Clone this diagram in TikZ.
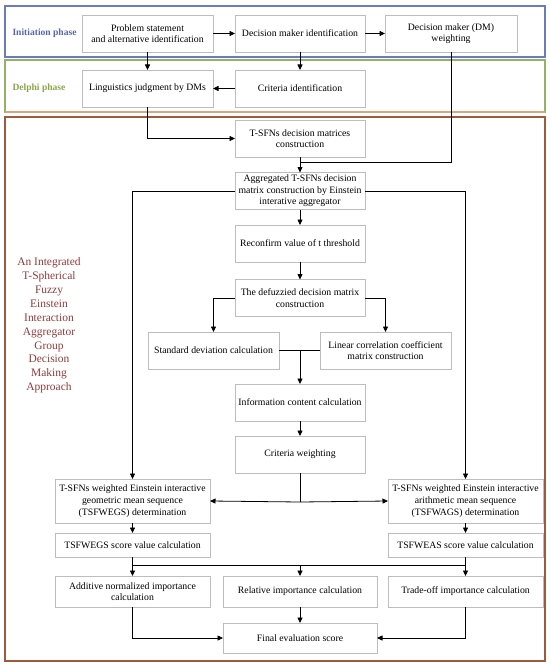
\documentclass[tikz,border=0pt]{standalone}
\usepackage{fontspec}
\setmainfont{Liberation Serif}
\usetikzlibrary{arrows.meta,calc,positioning}
\definecolor{initblue}{HTML}{6A7BC0}
\definecolor{delphigreen}{HTML}{93B264}
\definecolor{salmon}{HTML}{DCA47F}
\definecolor{rust}{HTML}{9C5C3C}
\definecolor{boxgray}{HTML}{BDBDBD}
\definecolor{titlered}{HTML}{8E3B3B}
\definecolor{labblue}{HTML}{5866AE}
\definecolor{labgreen}{HTML}{8AA64A}

\begin{document}
\begin{tikzpicture}[x=1bp,y=-1bp,>={Triangle[length=5.5bp,width=5bp]},
  font=\fontsize{9.8}{11.7}\selectfont,
  b/.style={draw=boxgray,fill=white,line width=.6pt,inner sep=1pt,outer sep=0pt,
            align=center,minimum height=37bp,minimum width=130bp},
  wide/.style={b,minimum width=155bp},
  link/.style={->,line width=.8pt},
  phase/.style={font=\fontsize{9.6}{11}\selectfont\bfseries,anchor=west}]
\useasboundingbox (0,0) rectangle (550,665);
% ---------------- phase frames
\draw[initblue,line width=1.3pt] (5,6) rectangle (545,57);
\draw[delphigreen,line width=1.3pt] (5,60) rectangle (545,112);
\draw[salmon,line width=1.3pt] (5,112) -- (545,112);
\draw[rust,line width=1.5pt] (5,117) rectangle (545,661);
\node[phase,color=labblue] (initlab) at (9,33) {Initiation phase};
\node[phase,color=labgreen] (delphilab) at (9,88) {Delphi phase};
\node[color=titlered,font=\fontsize{11.5}{13.9}\selectfont,align=center] (title) at (49,325.5)
   {An Integrated\\T-Spherical\\Fuzzy\\Einstein\\Interaction\\Aggregator\\Group\\Decision\\Making\\Approach};

% ---------------- initiation and Delphi rows
\node[b,minimum width=131bp] (prob) at (147.5,33.5) {Problem statement\\and alternative identification};
\node[b] (dmid) at (300,33.5) {Decision maker identification};
\node[b,minimum width=132bp] (dmw) at (451,33.5) {Decision maker (DM)\\weighting};
\node[b,minimum width=131bp] (ling) at (147.5,88.5) {Linguistics judgment by DMs};
\node[b] (crit) at (300,88.5) {Criteria identification};

% ---------------- main column
\node[b] (tsfn) at (300,138.5) {T-SFNs decision matrices\\construction};
\node[b] (agg) at (300,191) {Aggregated T-SFNs decision\\matrix construction by Einstein\\interative aggregator};
\node[b] (recon) at (300,243.5) {Reconfirm value of t threshold};
\node[b] (defuz) at (300,298) {The defuzzied decision matrix\\construction};
\node[b,minimum width=131bp] (std) at (213.5,350.5) {Standard deviation calculation};
\node[b,minimum width=131bp] (lin) at (385.5,350.5) {Linear correlation coefficient\\matrix construction};
\node[b] (info) at (300,402.5) {Information content calculation};
\node[b] (crw) at (300,454.5) {Criteria weighting};

% ---------------- geometric / arithmetic branches
\node[wide,minimum height=44bp] (geo) at (132.5,501) {T-SFNs weighted Einstein interactive\\geometric mean sequence\\(TSFWEGS) determination};
\node[wide,minimum height=44bp] (ari) at (465.5,501) {T-SFNs weighted Einstein interactive\\arithmetic mean sequence\\(TSFWAGS) determination};
\node[wide,minimum height=24bp] (geosc) at (132.5,545) {TSFWEGS score value calculation};
\node[wide,minimum height=24bp] (arisc) at (465.5,545) {TSFWEAS score value calculation};
\node[wide,minimum height=31bp] (addi) at (132.5,591.5) {Additive normalized importance\\calculation};
\node[wide,minimum height=31bp,minimum width=154bp] (rel) at (300,591.5) {Relative importance calculation};
\node[wide,minimum height=31bp] (trade) at (465.5,591.5) {Trade-off importance calculation};
\node[wide,minimum height=30bp,minimum width=154bp] (final) at (300,638) {Final evaluation score};

\coordinate (wjoin) at (300,162);
\coordinate (mid) at (300,350.5);
\coordinate (split) at (300,502);
\coordinate (gsplit) at (132.5,565);
\coordinate (asplit) at (465.5,565);

% ---------------- connectors
\draw[link] (prob) -- (dmid);
\draw[link] (dmid) -- (dmw);
\draw[link] (prob) -- (ling);
\draw[link] (dmid) -- (crit);
\draw[link] (crit) -- (ling);
\draw[link] (ling.south) |- (tsfn.west);
\draw[line width=.8pt] (dmw.south) |- (wjoin);
\draw[link] (tsfn) -- (agg);
\draw[link] (agg.west) -| (geo.north);
\draw[link] (agg.east) -| (ari.north);
\draw[link] (agg) -- (recon);
\draw[link] (recon) -- (defuz);
\draw[link] (defuz.west) -| (std.north);
\draw[link] (defuz.east) -| (lin.north);
\draw[line width=.8pt] (std.east) -- (lin.west);
\draw[link] (mid) -- (info.north);
\draw[link] (info) -- (crw);
\draw[line width=.8pt] (crw.south) -- (split);
\draw[link] (split) -- (geo.east);
\draw[link] (split) -- (ari.west);
\draw[link] (geo) -- (geosc);
\draw[link] (ari) -- (arisc);
\draw[line width=.8pt] (geosc.south) -- (gsplit) -- (asplit) -- (arisc.south);
\draw[link] (gsplit) -- (addi.north);
\draw[link] (gsplit -| rel.north) -- (rel.north);
\draw[link] (asplit) -- (trade.north);
\draw[link] (addi.south) |- (final.west);
\draw[link] (rel) -- (final);
\draw[link] (trade.south) |- (final.east);
\end{tikzpicture}
\end{document}
